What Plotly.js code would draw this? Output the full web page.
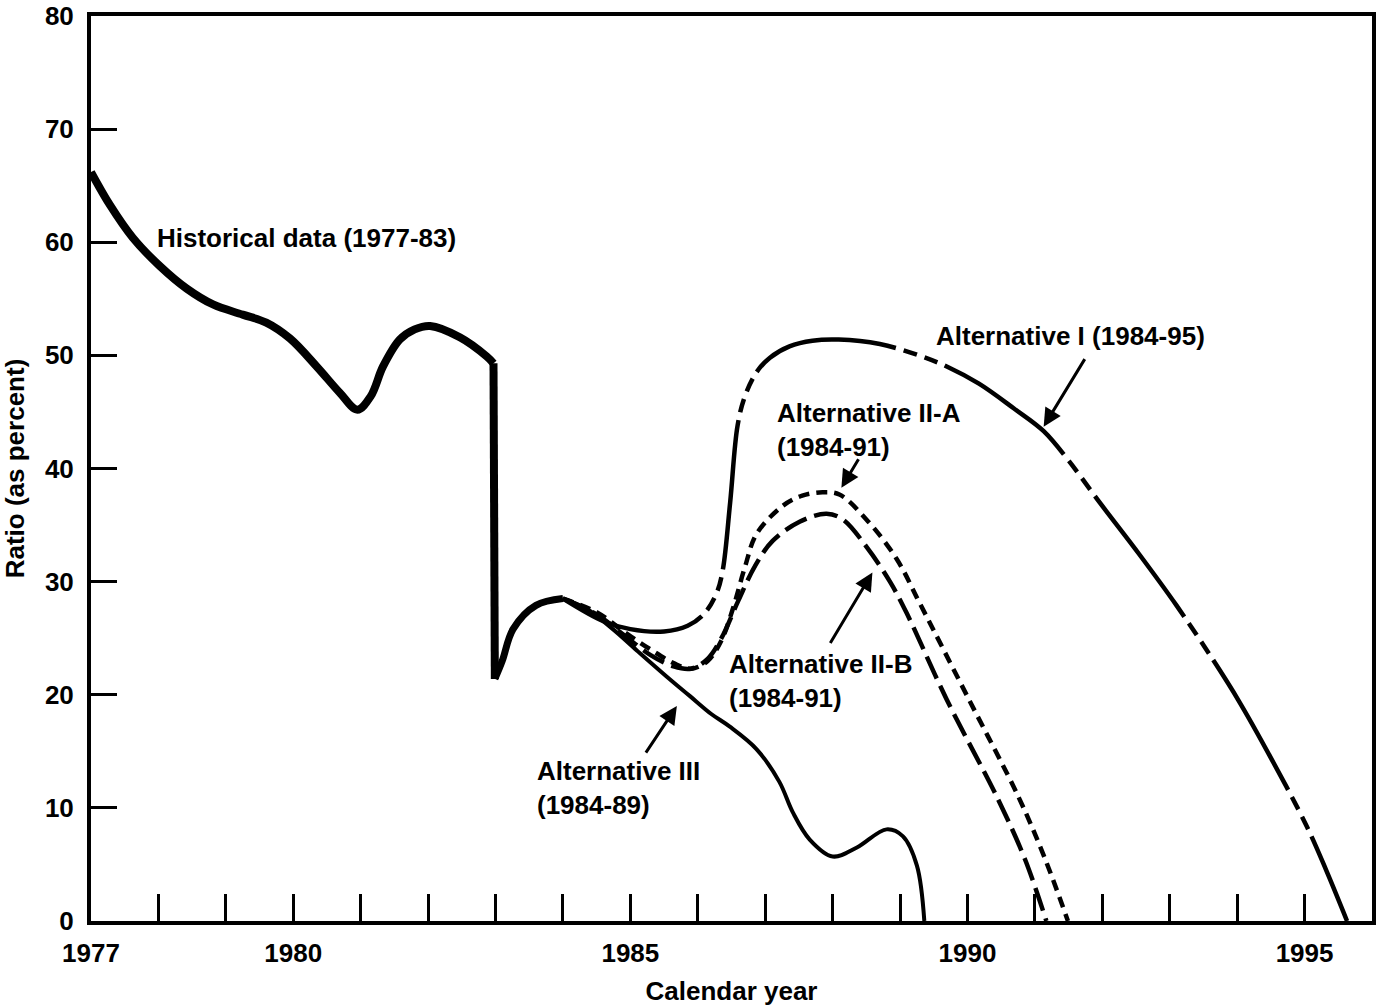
<!DOCTYPE html>
<html>
<head>
<meta charset="utf-8">
<script src="https://cdn.plot.ly/plotly-3.0.1.min.js"></script>
<style>html,body{margin:0;padding:0;background:#fff;}#chart{width:1377px;height:1007px;}</style>
</head>
<body>
<div id="chart"></div>
<script>
// ---- Data ----
const histYears = [1977, 1977.28, 1977.62, 1978.02, 1978.42, 1978.81, 1979.25, 1979.6, 1979.95, 1980.35, 1980.69, 1980.95, 1981.15, 1981.33, 1981.58, 1981.8, 1982.03, 1982.47, 1982.87, 1982.97];
const histVals  = [66.2, 63.3, 60.4, 57.9, 55.9, 54.5, 53.6, 52.9, 51.5, 49.0, 46.7, 45.2, 46.4, 49.0, 51.4, 52.3, 52.6, 51.6, 49.9, 49.3];
const dropYears = [1982.97, 1982.99];
const dropVals  = [49.3, 21.4];
const hist2Years = [1982.99, 1983.1, 1983.26, 1983.6, 1984.0];
const hist2Vals  = [21.4, 23.0, 25.8, 27.9, 28.5];

const alt1Years = [1984, 1984.6, 1985.0, 1985.5, 1985.85, 1986.1, 1986.28, 1986.37, 1986.48, 1986.59, 1986.7, 1986.87, 1987.07, 1987.36, 1987.7, 1988.09, 1988.7, 1989.28, 1989.7, 1990.17, 1990.69, 1991.13, 1991.5, 1991.96, 1992.55, 1993.1, 1993.63, 1994.03, 1994.52, 1995.03, 1995.32, 1995.63];
const alt1Vals  = [28.5, 26.5, 25.8, 25.6, 26.1, 27.2, 29.0, 31.0, 37.0, 43.8, 46.4, 48.5, 49.8, 50.8, 51.3, 51.4, 51.0, 50.0, 49.0, 47.5, 45.3, 43.3, 40.7, 37.0, 32.4, 27.9, 23.2, 19.4, 14.2, 8.4, 4.5, 0];

const alt2aYears = [1984, 1984.5, 1984.9, 1985.3, 1985.64, 1985.9, 1986.15, 1986.35, 1986.52, 1986.7, 1986.87, 1987.26, 1987.55, 1987.85, 1988.1, 1988.5, 1988.95, 1989.3, 1990.02, 1990.77, 1991.15, 1991.49];
const alt2aVals  = [28.5, 27.3, 25.6, 24.0, 22.8, 22.3, 23.0, 24.8, 27.6, 31.3, 34.2, 36.7, 37.6, 37.9, 37.7, 35.5, 32.0, 28.0, 19.6, 10.8, 5.5, 0];

const alt2bYears = [1984, 1984.5, 1984.9, 1985.3, 1985.64, 1985.9, 1986.15, 1986.35, 1986.6, 1986.85, 1987.11, 1987.51, 1987.91, 1988.15, 1988.5, 1988.85, 1989.1, 1989.69, 1990.45, 1990.85, 1991.17];
const alt2bVals  = [28.5, 27.1, 25.3, 23.5, 22.5, 22.3, 23.2, 25.0, 28.3, 31.4, 33.6, 35.3, 36.0, 35.5, 33.1, 30.0, 27.2, 19.6, 10.8, 5.5, 0];

const alt3Years = [1984, 1984.35, 1984.74, 1985.1, 1985.58, 1985.88, 1986.2, 1986.47, 1986.87, 1987.21, 1987.41, 1987.66, 1988.0, 1988.36, 1988.8, 1989.04, 1989.25, 1989.36];
const alt3Vals  = [28.5, 27.6, 25.8, 23.9, 21.4, 19.9, 18.3, 17.2, 15.2, 12.3, 9.6, 7.2, 5.7, 6.5, 8.1, 7.5, 4.9, 0];

const tickYears  = [1977,1978,1979,1980,1981,1982,1983,1984,1985,1986,1987,1988,1989,1990,1991,1992,1993,1994,1995];
const tickLabels = ['1977','','','1980','','','','','1985','','','','','1990','','','','','1995'];
const yTicks = [0,10,20,30,40,50,60,70,80];

const labels = [
  {text: 'Historical data (1977-83)', x: 1977.95, y: 60.4},
  {text: 'Alternative I (1984-95)', x: 1989.51, y: 51.7},
  {text: 'Alternative II-A<br>(1984-91)', x: 1987.14, y: 43.4},
  {text: 'Alternative II-B<br>(1984-91)', x: 1986.43, y: 21.2},
  {text: 'Alternative III<br>(1984-89)', x: 1983.58, y: 11.8}
];
const arrows = [
  {x: 1991.13, y: 43.7, ax: 42, ay: -69},
  {x: 1988.13, y: 38.3, ax: 18, ay: -30},
  {x: 1988.59, y: 30.8, ax: -43, ay: 72},
  {x: 1985.69, y: 19.0, ax: -32, ay: 48}
];

// ---- Drawing ----
const FONT = 'Liberation Sans, Arial, Helvetica, sans-serif';
const black = '#000';
function tr(x, y, width, dash, shape) {
  return {x: x, y: y, type: 'scatter', mode: 'lines',
    line: {color: black, width: width, dash: dash || 'solid', shape: shape || 'spline', smoothing: 1},
    hoverinfo: 'skip', showlegend: false};
}
const data = [
  tr(alt1Years, alt1Vals, 4.5, '150px,8px,14px,8px,14px,8px'),
  tr(alt2aYears, alt2aVals, 4.5, '11px,7px'),
  tr(alt2bYears, alt2bVals, 4.5, '24px,8px'),
  tr(alt3Years, alt3Vals, 4),
  tr(histYears, histVals, 8),
  tr(dropYears, dropVals, 8, 'solid', 'linear'),
  tr(hist2Years, hist2Vals, 7)
];

const annotations = labels.map(l => ({
  text: l.text, x: l.x, y: l.y, xref: 'x', yref: 'y', showarrow: false,
  xanchor: 'left', yanchor: 'middle', align: 'left',
  font: {family: FONT, size: 26, color: black, weight: 'bold'}
})).concat(arrows.map(a => ({
  text: '', x: a.x, y: a.y, xref: 'x', yref: 'y', ax: a.ax, ay: a.ay,
  showarrow: true, arrowhead: 2, arrowsize: 1.2, arrowwidth: 3, arrowcolor: black, standoff: 0
})));

const layout = {
  width: 1377, height: 1007,
  margin: {l: 91, r: 5, t: 16, b: 86},
  paper_bgcolor: '#fff', plot_bgcolor: '#fff',
  showlegend: false,
  font: {family: FONT, size: 26, color: black, weight: 'bold'},
  xaxis: {
    range: [1977, 1996], tickmode: 'array', tickvals: tickYears, ticktext: tickLabels,
    ticks: 'inside', ticklen: 27, tickwidth: 3, tickcolor: black,
    showline: true, linewidth: 4, linecolor: black, mirror: true,
    showgrid: false, zeroline: false,
    tickfont: {family: FONT, size: 26, color: black, weight: 'bold'},
    ticklabelstandoff: 6,
    title: {text: 'Calendar year', standoff: 16, font: {family: FONT, size: 26, color: black, weight: 'bold'}}
  },
  yaxis: {
    range: [0, 80], tickmode: 'array', tickvals: yTicks,
    ticks: 'inside', ticklen: 26, tickwidth: 3, tickcolor: black,
    showline: true, linewidth: 4, linecolor: black, mirror: true,
    showgrid: false, zeroline: false,
    tickfont: {family: FONT, size: 26, color: black, weight: 'bold'},
    ticklabelstandoff: 8,
    title: {text: 'Ratio (as percent)', standoff: 14, font: {family: FONT, size: 26, color: black, weight: 'bold'}}
  },
  annotations: annotations
};

Plotly.newPlot('chart', data, layout, {displayModeBar: false, staticPlot: true});
</script>
</body>
</html>
